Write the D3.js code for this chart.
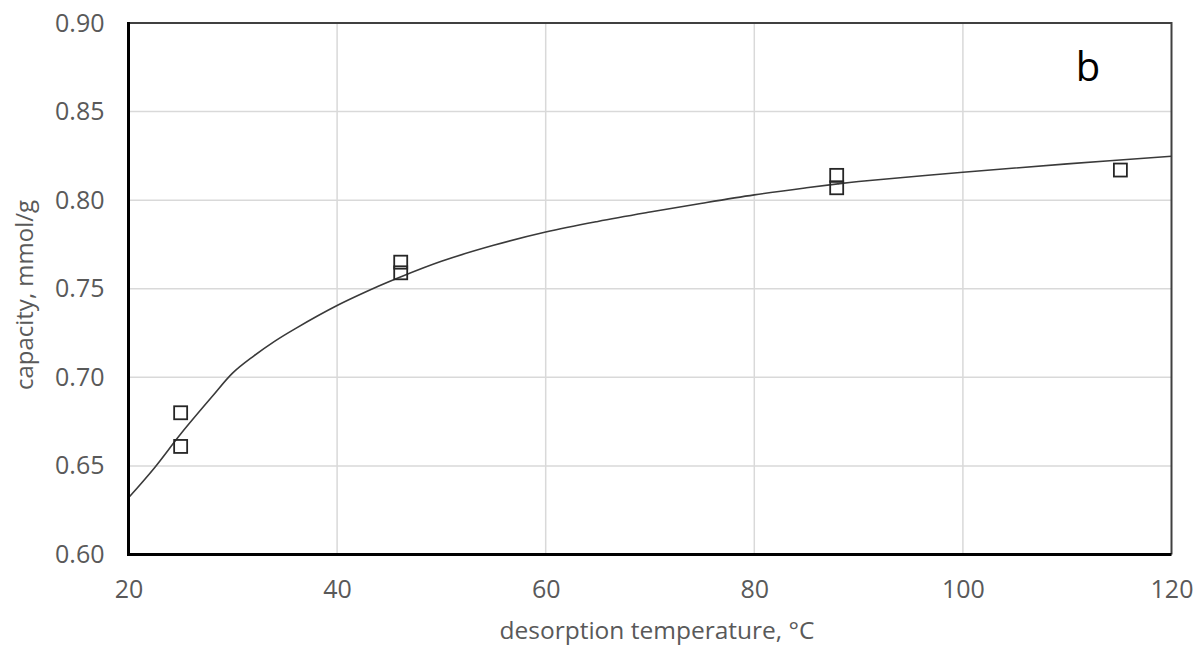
<!DOCTYPE html>
<html>
<head>
<meta charset="utf-8">
<script src="https://cdn.jsdelivr.net/npm/d3@7"></script>
<style>
  html, body { margin: 0; padding: 0; background: #fff; }
  svg { display: block; }
</style>
</head>
<body>
<svg id="chart" width="1203" height="653"></svg>
<script>
// ---- data ----
const measuredTemp = [25, 25, 46.1, 46.1, 87.9, 87.9, 115.1];
const measuredCapacity = [0.680, 0.661, 0.765, 0.759, 0.814, 0.807, 0.817];

const fitTemp = [20, 22.5, 25, 28, 30, 32, 34, 36, 40, 44, 46, 50, 55, 60, 65, 70, 75, 80, 85, 88, 90, 100, 110, 120];
const fitCapacity = [0.632, 0.649, 0.668, 0.689, 0.7025, 0.712, 0.7203, 0.7275, 0.7405, 0.7515, 0.7565, 0.7655, 0.7745, 0.782, 0.788, 0.7933, 0.7983, 0.803, 0.807, 0.8092, 0.8105, 0.8158, 0.8205, 0.8248];

const xTicks = [20, 40, 60, 80, 100, 120];
const yTicks = [0.60, 0.65, 0.70, 0.75, 0.80, 0.85, 0.90];

const xTitle = "desorption temperature, °C";
const yTitle = "capacity, mmol/g";
const panelLabel = "b";

// ---- layout ----
const svg = d3.select("#chart");
const pL = 128.5, pR = 1171.5, pT = 23, pB = 554.5;
const font = "'Open Sans', 'Liberation Sans', sans-serif";
const textColor = "#595959";

const x = d3.scaleLinear().domain([20, 120]).range([pL, pR]);
const y = d3.scaleLinear().domain([0.60, 0.90]).range([pB, pT]);

// gridlines
const grid = svg.append("g");
grid.selectAll("line.v").data(xTicks.slice(1, -1)).join("line")
  .attr("class", "v")
  .attr("x1", d => x(d)).attr("x2", d => x(d))
  .attr("y1", pT).attr("y2", pB)
  .attr("stroke", "#d9d9d9").attr("stroke-width", 1.5);
grid.selectAll("line.h").data(yTicks.slice(1, -1)).join("line")
  .attr("class", "h")
  .attr("x1", pL).attr("x2", pR)
  .attr("y1", d => y(d)).attr("y2", d => y(d))
  .attr("stroke", "#d9d9d9").attr("stroke-width", 1.5);

// top / right frame
svg.append("path")
  .attr("d", `M${pL},${pT}H${pR}V${pB}`)
  .attr("fill", "none").attr("stroke", "#404040").attr("stroke-width", 2);

// fit curve
const line = d3.line().x((d, i) => x(fitTemp[i])).y((d, i) => y(fitCapacity[i])).curve(d3.curveCatmullRom.alpha(0.5));
svg.append("path")
  .datum(fitTemp)
  .attr("d", line)
  .attr("fill", "none").attr("stroke", "#3a3a3a").attr("stroke-width", 1.6);

// markers
const s = 13;
svg.append("g").selectAll("rect").data(measuredTemp).join("rect")
  .attr("x", (d) => x(d) - s / 2)
  .attr("y", (d, i) => y(measuredCapacity[i]) - s / 2)
  .attr("width", s).attr("height", s)
  .attr("fill", "none").attr("stroke", "#262626").attr("stroke-width", 1.8);

// axes (left & bottom thick black)
const xAxis = d3.axisBottom(x).tickValues(xTicks).tickSize(0).tickPadding(26).tickFormat(d3.format("d"));
const gx = svg.append("g").attr("transform", `translate(0,${pB})`).call(xAxis);
gx.select(".domain").attr("stroke", "#000").attr("stroke-width", 3)
  .attr("d", `M${pL - 1.5},0H${pR}`);
gx.selectAll("text").attr("font-family", font).attr("font-size", 25).attr("fill", textColor);

const yAxis = d3.axisLeft(y).tickValues(yTicks).tickSize(0).tickPadding(24).tickFormat(d3.format(".2f"));
const gy = svg.append("g").attr("transform", `translate(${pL},0)`).call(yAxis);
gy.select(".domain").attr("stroke", "#000").attr("stroke-width", 3)
  .attr("d", `M0,${pT - 1}V${pB + 1.5}`);
gy.selectAll("text").attr("font-family", font).attr("font-size", 25).attr("fill", textColor);

// titles
svg.append("text")
  .attr("x", 657).attr("y", 639)
  .attr("text-anchor", "middle")
  .attr("font-family", font).attr("font-size", 24.5).attr("fill", textColor)
  .text(xTitle);

svg.append("text")
  .attr("transform", `translate(33,295) rotate(-90)`)
  .attr("text-anchor", "middle")
  .attr("font-family", font).attr("font-size", 24).attr("fill", textColor)
  .text(yTitle);

svg.append("text")
  .attr("x", 1088).attr("y", 81)
  .attr("text-anchor", "middle")
  .attr("font-family", font).attr("font-size", 40).attr("fill", "#000")
  .text(panelLabel);
</script>
</body>
</html>
